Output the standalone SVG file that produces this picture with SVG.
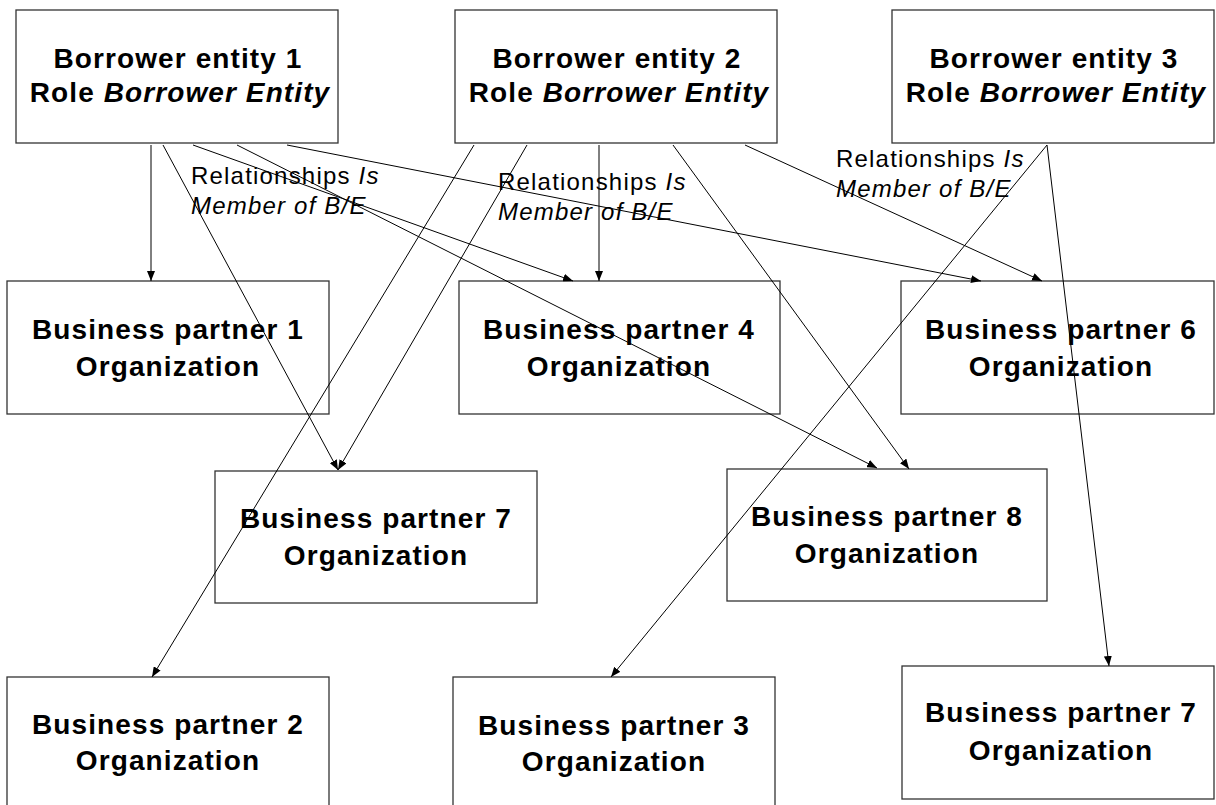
<svg xmlns="http://www.w3.org/2000/svg" width="1216" height="805" viewBox="0 0 1216 805">
<defs>
<marker id="ah" markerUnits="userSpaceOnUse" markerWidth="10" markerHeight="8" refX="10" refY="4" orient="auto">
<path d="M0,0 L10,4 L0,8 z" fill="#000"/>
</marker>
<style>
.box{fill:#fff;stroke:#333;stroke-width:1.3}
.t{font-family:"Liberation Sans",Arial,sans-serif;font-size:28px;font-weight:bold;fill:#000;text-anchor:middle;letter-spacing:1.1px}
.lbl{font-family:"Liberation Sans",Arial,sans-serif;font-size:24px;fill:#000;letter-spacing:1.2px}
.i{font-style:italic}
.c line{stroke:#000;stroke-width:1;marker-end:url(#ah)}
</style>
</defs>
<rect width="1216" height="805" fill="#fff"/>

<g id="be1"><rect class="box" x="16" y="10" width="322" height="133"/>
<text class="t" x="178" y="68">Borrower entity 1</text>
<text class="t" x="180" y="102">Role <tspan class="i">Borrower  Entity</tspan></text></g>
<g id="be2"><rect class="box" x="455" y="10" width="322" height="133"/>
<text class="t" x="617" y="68">Borrower entity 2</text>
<text class="t" x="619" y="102">Role <tspan class="i">Borrower  Entity</tspan></text></g>
<g id="be3"><rect class="box" x="892" y="10" width="322" height="133"/>
<text class="t" x="1054" y="68">Borrower entity 3</text>
<text class="t" x="1056" y="102">Role <tspan class="i">Borrower  Entity</tspan></text></g>

<g id="bp1"><rect class="box" x="7" y="281" width="322" height="133"/>
<text class="t" x="168" y="339">Business partner 1</text>
<text class="t" x="168" y="376">Organization</text></g>
<g id="bp4"><rect class="box" x="459" y="281" width="321" height="133"/>
<text class="t" x="619" y="339">Business partner 4</text>
<text class="t" x="619" y="376">Organization</text></g>
<g id="bp6"><rect class="box" x="901" y="281" width="313" height="133"/>
<text class="t" x="1061" y="339">Business partner 6</text>
<text class="t" x="1061" y="376">Organization</text></g>
<g id="bp7a"><rect class="box" x="215" y="471" width="322" height="132"/>
<text class="t" x="376" y="528">Business partner 7</text>
<text class="t" x="376" y="565">Organization</text></g>
<g id="bp8"><rect class="box" x="727" y="469" width="320" height="132"/>
<text class="t" x="887" y="526">Business partner 8</text>
<text class="t" x="887" y="563">Organization</text></g>
<g id="bp2"><rect class="box" x="7" y="677" width="322" height="140"/>
<text class="t" x="168" y="734">Business partner 2</text>
<text class="t" x="168" y="770">Organization</text></g>
<g id="bp3"><rect class="box" x="453" y="677" width="322" height="140"/>
<text class="t" x="614" y="735">Business partner 3</text>
<text class="t" x="614" y="771">Organization</text></g>
<g id="bp7b"><rect class="box" x="902" y="666" width="312" height="133"/>
<text class="t" x="1061" y="722">Business partner 7</text>
<text class="t" x="1061" y="760">Organization</text></g>

<g id="connectors" class="c">
<line x1="151" y1="145" x2="151" y2="281"/>
<line x1="163" y1="145" x2="338" y2="470"/>
<line x1="193" y1="145" x2="573" y2="281"/>
<line x1="237" y1="145" x2="877" y2="468"/>
<line x1="287" y1="145" x2="981" y2="281"/>
<line x1="474" y1="145" x2="152" y2="677"/>
<line x1="527" y1="145" x2="338" y2="470"/>
<line x1="599" y1="145" x2="599" y2="281"/>
<line x1="673" y1="145" x2="909" y2="469"/>
<line x1="745" y1="145" x2="1042" y2="281"/>
<line x1="1047" y1="145" x2="611" y2="677"/>
<line x1="1047" y1="145" x2="1109" y2="666"/>
</g>

<g id="labels">
<text class="lbl" x="191" y="184">Relationships <tspan class="i">Is</tspan></text>
<text class="lbl i" x="191" y="214">Member of B/E</text>
<text class="lbl" x="498" y="190">Relationships <tspan class="i">Is</tspan></text>
<text class="lbl i" x="498" y="220">Member of B/E</text>
<text class="lbl" x="836" y="167">Relationships <tspan class="i">Is</tspan></text>
<text class="lbl i" x="836" y="197">Member of B/E</text>
</g>
</svg>
